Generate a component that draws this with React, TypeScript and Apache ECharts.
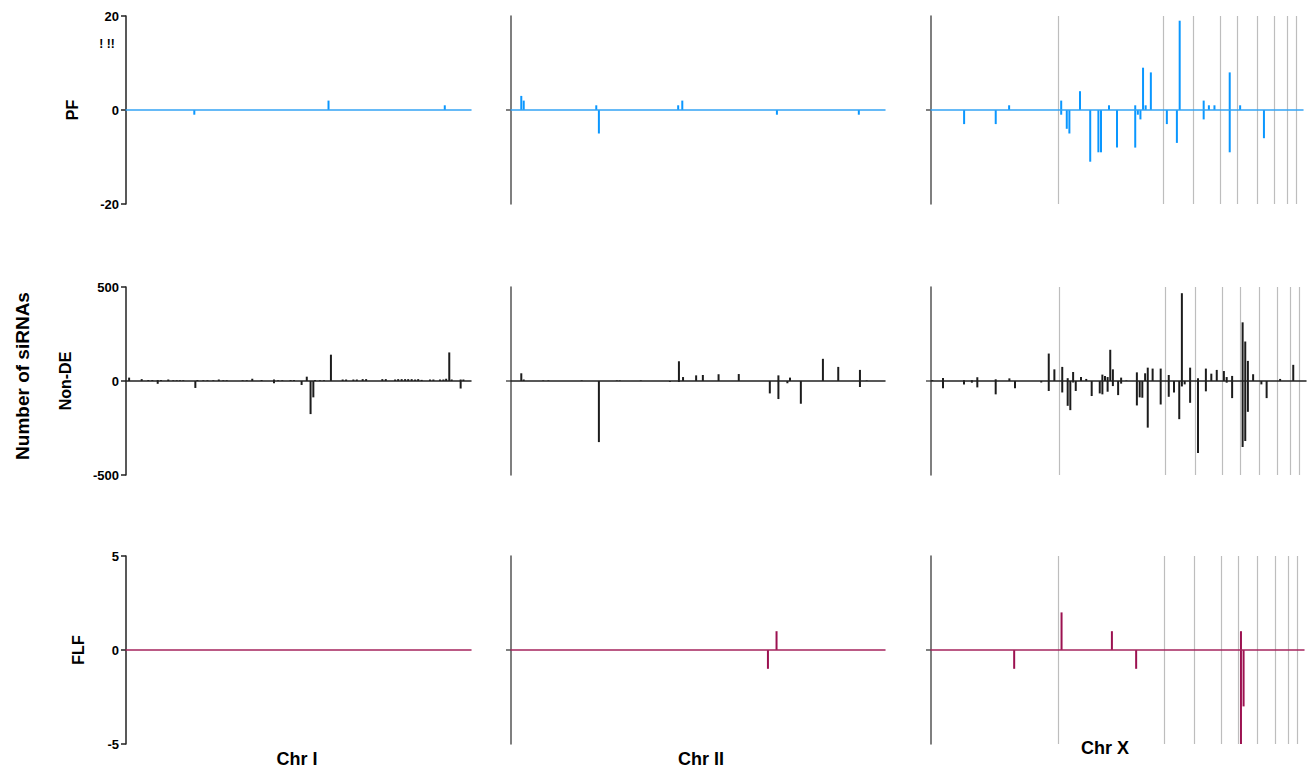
import React, { useEffect, useRef } from "react";
import * as echarts from "echarts";

// ---------- data (position = % of chromosome length, value = number of siRNAs) ----------
const chromosomes = ["Chr I", "Chr II", "Chr X"];
const rowNames = ["PF", "Non-DE", "FLF"];
const yMax = [20, 500, 5];

const pfChrI: number[][] = [[19.8, -1], [58.7, 2], [92.4, 1]];
const pfChrII: number[][] = [
  [2.75, 3], [3.4, 2], [22.8, 1], [23.5, -5], [44.7, 1], [45.8, 2], [71.1, -1], [93.0, -1],
];
const pfChrX: number[][] = [
  [8.9, -3], [17.4, -3], [21.0, 1], [35.0, 2], [35.0, -1], [36.5, -4], [37.2, -5], [40.05, 4],
  [42.8, -11], [45.0, -9], [45.7, -9], [47.85, 1], [50.0, -8], [54.9, 1], [54.9, -8], [55.6, -1],
  [56.3, -2], [57.0, 9], [57.7, 1], [59.1, 8], [63.4, -3], [66.1, -7], [66.85, 19], [73.3, 2],
  [73.3, -2], [74.7, 1], [76.2, 1], [80.3, 8], [80.3, -9], [83.1, 1], [89.5, -6],
];

const nonDeChrI: number[][] = [
  [0.9, 18], [4.55, 10], [6.46, 5], [7.62, 5], [9.19, 5], [9.19, -15], [10.14, 5], [12.26, 8],
  [13.7, 4], [14.7, 4], [15.65, 4], [16.6, 4], [20.1, -37], [20.7, 5], [22.4, 4], [23.6, 4],
  [25.3, 4], [26.9, 8], [28.2, 4], [29.2, 4], [33.8, 4], [35.0, 4], [36.6, 12], [39.3, 5],
  [42.9, 8], [42.9, -12], [44.1, 4], [45.3, 4], [47.7, 5], [48.7, 5], [50.9, -21], [52.4, 23],
  [53.5, -176], [54.3, -87], [54.8, 5], [56.2, 4], [57.4, 4], [59.4, 140], [62.8, 8], [63.8, 8],
  [65.9, 8], [66.9, 8], [68.6, 10], [69.6, 10], [74.3, 10], [75.3, 10], [78.0, 8], [78.9, 10],
  [79.9, 10], [80.9, 10], [81.8, 10], [82.8, 10], [83.8, 8], [84.7, 10], [85.7, 6], [88.1, 8],
  [89.1, 8], [91.0, 8], [92.0, 8], [92.8, 12], [93.7, 152], [94.4, 8], [97.0, -40], [97.0, 8],
  [97.8, 8],
];
const nonDeChrII: number[][] = [
  [2.75, 41], [3.4, 8], [8.6, 3], [10.0, 3], [18.9, 3], [23.5, -325], [28.3, 3], [29.1, 3],
  [34.7, 3], [42.5, -5], [44.9, 105], [44.9, -5], [46.0, 21], [49.5, 30], [51.3, 32], [55.5, 36],
  [60.9, 37], [69.2, -66], [71.5, 30], [71.5, -96], [73.9, -12], [74.6, 18], [77.5, -121],
  [83.4, 118], [87.5, 75], [93.3, 59], [93.3, -32], [95.1, 3],
];
const nonDeChrX: number[][] = [
  [0.35, 5], [3.2, 16], [3.2, -39], [8.8, 4], [8.8, -18], [10.9, 4], [10.9, -9], [12.35, 20],
  [12.35, -34], [17.25, 9], [17.25, -71], [20.9, 14], [22.4, -39], [29.4, -8], [31.4, 146],
  [31.4, -53], [32.9, 62], [35.0, 75], [35.0, -61], [36.45, 15], [36.45, -132], [37.15, -155],
  [37.9, 48], [37.9, -8], [38.6, -53], [40.0, 21], [41.4, 11], [42.85, -80], [45.0, -66],
  [45.7, 34], [45.7, -71], [46.4, 27], [47.1, 21], [47.1, -57], [47.8, 166], [48.5, 62],
  [48.5, -27], [49.9, -75], [50.7, 18], [50.7, -14], [52.1, 3], [54.9, 46], [54.9, -130],
  [55.65, -87], [56.35, -89], [57.1, 41], [57.8, 71], [57.8, -248], [59.1, 66], [61.25, 66],
  [61.25, -125], [63.4, 32], [63.4, -84], [64.8, -61], [66.2, -203], [66.9, 467], [66.9, -29],
  [67.65, -18], [69.1, 71], [69.1, -116], [71.2, 14], [71.2, -383], [73.3, 66], [73.3, -55],
  [74.75, 39], [76.2, 59], [78.1, 53], [78.85, 21], [78.85, -9], [80.3, 27], [80.3, -91],
  [83.1, 312], [83.1, -351], [83.8, 210], [83.8, -319], [84.5, 107], [84.5, -164], [85.9, 36],
  [88.1, -18], [89.5, -91], [93.1, 11], [96.6, 86],
];

const flfChrI: number[][] = [];
const flfChrII: number[][] = [[68.7, -1], [71.0, 1]];
const flfChrX: number[][] = [
  [22.3, -1], [35.0, 2], [48.5, 1], [55.0, -1], [83.1, 1], [83.1, -5], [83.8, -3],
];

// reference boundaries drawn on Chr X (% of chromosome length)
const chrXBoundaries = [34.2, 62.55, 70.5, 77.7, 82.4, 87.6, 92.4, 95.9, 98.1];

const panels = [
  [pfChrI, pfChrII, pfChrX],
  [nonDeChrI, nonDeChrII, nonDeChrX],
  [flfChrI, flfChrII, flfChrX],
];

// ---------- styling ----------
const FONT = "'Liberation Sans', Arial, Helvetica, sans-serif";
const barColors = ["#0A97FF", "#1c1c1c", "#9C1150"];
const zeroColors = ["#34A4F5", "#222222", "#A5245E"];
const colLeft = [126, 511, 931];
const colWidth = [
  [345, 374, 372],
  [345, 374, 375],
  [345, 374, 373],
];
const rowTop = [16, 287, 556];
const rowHeight = 188;
const nameGaps = [46, 53, 40];

export default function App() {
  const ref = useRef<HTMLDivElement>(null);

  useEffect(() => {
    if (!ref.current) return;
    const chart = echarts.init(ref.current, null, { renderer: "svg" });

    const grid: any[] = [];
    const xAxis: any[] = [];
    const yAxis: any[] = [];
    const series: any[] = [];

    for (let r = 0; r < 3; r++) {
      for (let c = 0; c < 3; c++) {
        const gi = r * 3 + c;
        grid.push({
          left: colLeft[c],
          top: rowTop[r],
          width: colWidth[r][c],
          height: rowHeight,
          containLabel: false,
        });
        xAxis.push({
          type: "value",
          gridIndex: gi,
          min: 0,
          max: 100,
          z: 3,
          axisLine: {
            show: true,
            onZero: true,
            lineStyle: { color: zeroColors[r], width: 1.5 },
          },
          axisTick: { show: false },
          axisLabel: { show: false },
          splitLine: { show: false },
        });
        const axisColor = c === 0 ? "#222" : "#555";
        yAxis.push({
          type: "value",
          gridIndex: gi,
          min: -yMax[r],
          max: yMax[r],
          interval: yMax[r],
          axisLine: { show: true, onZero: false, lineStyle: { color: axisColor, width: 1.5 } },
          axisTick:
            c === 0
              ? { show: true, length: 5, lineStyle: { color: axisColor, width: 1.5 } }
              : { show: true, length: 5, customValues: [0], lineStyle: { color: axisColor, width: 1.5 } },
          axisLabel:
            c === 0
              ? { show: true, fontWeight: "bold", fontSize: 13, color: "#000", fontFamily: FONT, margin: 7 }
              : { show: false },
          splitLine: { show: false },
          name: c === 0 ? rowNames[r] : "",
          nameLocation: "middle",
          nameRotate: 90,
          nameGap: nameGaps[r],
          nameTextStyle: { fontWeight: "bold", fontSize: 16, color: "#000", fontFamily: FONT },
        });
        const s: any = {
          type: "bar",
          name: `${rowNames[r]} ${chromosomes[c]}`,
          xAxisIndex: gi,
          yAxisIndex: gi,
          barWidth: 2,
          data: panels[r][c],
          itemStyle: { color: barColors[r] },
          z: 2,
        };
        if (c === 2) {
          s.markLine = {
            silent: true,
            symbol: "none",
            label: { show: false },
            lineStyle: { color: "#BDBDBD", width: 1.2, type: "solid" },
            data: chrXBoundaries.map((v) => ({ xAxis: v })),
            z: 1,
          };
        }
        series.push(s);
      }
    }

    chart.setOption({
      animation: false,
      backgroundColor: "#ffffff",
      grid,
      xAxis,
      yAxis,
      series,
      graphic: [
        {
          type: "text",
          x: 22,
          y: 376,
          rotation: Math.PI / 2,
          style: {
            text: "Number of siRNAs",
            fontSize: 19,
            fontWeight: "bold",
            fontFamily: FONT,
            fill: "#000",
            align: "center",
            verticalAlign: "middle",
          },
        },
        {
          type: "text",
          x: 107,
          y: 44,
          style: {
            text: "! !!",
            fontSize: 12,
            fontWeight: "bold",
            fontFamily: FONT,
            fill: "#000",
            align: "center",
            verticalAlign: "middle",
          },
        },
        ...[
          { t: chromosomes[0], x: 297, y: 759 },
          { t: chromosomes[1], x: 701, y: 759 },
          { t: chromosomes[2], x: 1105, y: 748 },
        ].map((d) => ({
          type: "text",
          x: d.x,
          y: d.y,
          style: {
            text: d.t,
            fontSize: 18,
            fontWeight: "bold",
            fontFamily: FONT,
            fill: "#000",
            align: "center",
            verticalAlign: "middle",
          },
        })),
      ],
    });

    return () => chart.dispose();
  }, []);

  return (
    <div
      ref={ref}
      style={{ position: "absolute", left: 0, top: 0, width: 1308, height: 769, background: "#fff" }}
    />
  );
}
